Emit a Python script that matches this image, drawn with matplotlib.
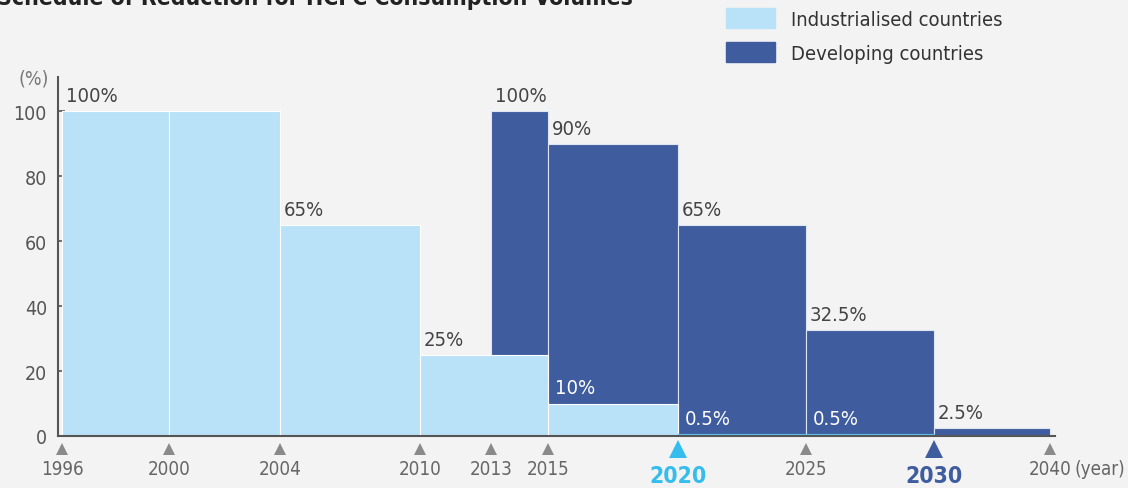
import numpy as np
from matplotlib import pyplot as plt
import matplotlib.transforms as mtransforms

plt.rcParams['font.family'] = ['DejaVu Sans']
plt.rcParams['font.stretch'] = 'condensed'
plt.rcParams['font.size'] = 14

# year ticks and where they sit on the (non-linear) time axis
years = [1996, 2000, 2004, 2010, 2013, 2015, 2020, 2025, 2030, 2040]
year_pos = [62, 169, 280, 420, 491, 548, 678, 806, 934, 1050]
pos = dict(zip(years, year_pos))

# (start, end, percent)
ind_start = [1996, 2000, 2004, 2010, 2015, 2020, 2025]
ind_end = [2000, 2004, 2010, 2015, 2020, 2025, 2030]
ind_val = [100, 100, 65, 25, 10, 0.5, 0.5]
ind_lab = ['100%', '', '65%', '25%', '10%', '0.5%', '0.5%']

dev_start = [2013, 2015, 2020, 2025, 2030]
dev_end = [2015, 2020, 2025, 2030, 2040]
dev_val = [100, 90, 65, 32.5, 2.5]
dev_lab = ['100%', '90%', '65%', '32.5%', '2.5%']

bg = '#f3f3f3'
light = '#b9e2f8'
cyan = '#5cc3f0'
dark = '#3f5c9e'
grey = '#555555'

fig = plt.figure(figsize=(11.28, 4.89), dpi=100, facecolor=bg)
ax = fig.add_axes([58/1128, 52/489, (1055-58)/1128, (437-78)/489])
ax.set_facecolor(bg)

# developing first, industrialised drawn on top
for s, e, v, lab in zip(dev_start, dev_end, dev_val, dev_lab):
    x0, x1 = pos[s], pos[e]
    ax.bar(x0, v, width=x1 - x0, align='edge', color=dark,
           edgecolor='#dfe6f2', linewidth=0.8, zorder=2)
    ax.text(x0 + 4, v + 4.8, lab, ha='left', va='center',
            color='#444444', fontsize=14.5, zorder=5)

for s, e, v, lab in zip(ind_start, ind_end, ind_val, ind_lab):
    x0, x1 = pos[s], pos[e]
    c = cyan if v < 1 else light
    ax.bar(x0, v, width=x1 - x0, align='edge', color=c,
           edgecolor='white' if v >= 1 else cyan, linewidth=0.8, zorder=3)
    if lab:
        inside = s >= 2015
        ax.text(x0 + (4 if not inside else 7), v + 4.8, lab, ha='left', va='center',
                color='white' if inside else '#444444', fontsize=14.5, zorder=5)

ax.set_xlim(58, 1055)
ax.set_ylim(0, 110.5)

for side in ['top', 'right']:
    ax.spines[side].set_visible(False)
for side in ['left', 'bottom']:
    ax.spines[side].set_color(grey)
    ax.spines[side].set_linewidth(1.5)
    ax.spines[side].set_zorder(6)

ax.set_yticks([0, 20, 40, 60, 80, 100])
ax.tick_params(axis='y', direction='in', length=5, width=1.2, color=grey,
               labelcolor=grey, labelsize=14, pad=8)
ax.set_xticks([])
ax.text(-0.024, 0.997, '(%)', transform=ax.transAxes, ha='center', va='center',
        color='#777777', fontsize=14)

# triangle markers and year labels under the axis
trans = mtransforms.blended_transform_factory(ax.transData, ax.transAxes)
for y, p in zip(years, year_pos):
    if y == 2020:
        mc, ms, fc, fs, fw = '#35bdee', 13, '#35bdee', 16.5, 'bold'
    elif y == 2030:
        mc, ms, fc, fs, fw = dark, 13, dark, 16.5, 'bold'
    else:
        mc, ms, fc, fs, fw = '#8a8a8a', 9, '#666666', 13.5, 'normal'
    ax.plot([p], [-0.035], marker='^', color=mc, markersize=ms, markeredgewidth=0,
            transform=trans, clip_on=False)
    ty = -0.09 if fw == 'normal' else -0.11
    ax.text(p, ty, str(y), transform=trans, ha='center', va='center',
            color=fc, fontsize=fs, fontweight=fw)
ax.text(pos[2040] + 24, -0.09, '(year)', transform=trans, ha='left', va='center',
        color='#666666', fontsize=13.5)

# legend
h1 = plt.Rectangle((0, 0), 1, 1, color=light)
h2 = plt.Rectangle((0, 0), 1, 1, color=dark)
fig.legend([h1, h2], ['Industrialised countries', 'Developing countries'],
           loc='upper left', bbox_to_anchor=(726/1128, 1 - 9/489), frameon=False,
           fontsize=14.5, handlelength=2.45, handleheight=1.15, labelspacing=0.65,
           handletextpad=0.8, borderpad=0, borderaxespad=0, labelcolor='#333333')

fig.text(-0.003, 1 - 5/489, 'Schedule of Reduction for HCFC Consumption Volumes',
         ha='left', va='baseline', fontsize=16.5, fontweight='bold', color='#222222')

fig.savefig('out.png', dpi=100, facecolor=bg)
